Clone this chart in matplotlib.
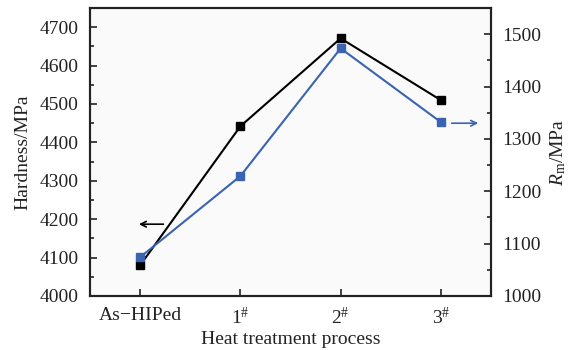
import numpy as np
import matplotlib.pyplot as plt
from matplotlib.ticker import MultipleLocator

plt.rcParams['font.family'] = ['Liberation Serif', 'DejaVu Serif']
plt.rcParams['mathtext.fontset'] = 'custom'
plt.rcParams['mathtext.rm'] = 'Liberation Serif'
plt.rcParams['mathtext.it'] = 'Liberation Serif:italic'
plt.rcParams['text.color'] = '#222222'
plt.rcParams['xtick.color'] = '#222222'
plt.rcParams['ytick.color'] = '#222222'
plt.rcParams['axes.labelcolor'] = '#222222'

# === données ===
process = ["As\u2212HIPed", "1$^{\\#}$", "2$^{\\#}$", "3$^{\\#}$"]
hardness = [4080, 4442, 4671, 4510]   # MPa, axe gauche
rm = [1074, 1229, 1473, 1332]         # MPa, axe droit

x = np.arange(len(process))

fig = plt.figure(figsize=(5.77, 3.5), dpi=100)
fig.patch.set_facecolor('white')
ax = fig.add_axes([90/577, 1 - 296/350, 401/577, 288/350])
ax.set_facecolor('#fafafa')

ax.plot(x, hardness, color='black', lw=1.5, marker='s', ms=6, zorder=3)
ax.set_xlim(-0.5, 3.5)
ax.set_ylim(4000, 4750)
ax.yaxis.set_major_locator(MultipleLocator(100))
ax.yaxis.set_minor_locator(MultipleLocator(50))
ax.set_xticks(x)
ax.set_xticklabels(process, fontsize=14)
ax.set_ylabel("Hardness/MPa", fontsize=14, labelpad=6)
ax.set_xlabel("Heat treatment process", fontsize=14, labelpad=2)
ax.tick_params(direction='in', length=5, width=1.2, labelsize=14, top=False, pad=8)
ax.tick_params(which='minor', direction='in', length=3, width=1.2)

ax2 = ax.twinx()
ax2.plot(x, rm, color='#3a63b0', lw=1.5, marker='s', ms=6, zorder=3)
ax2.set_ylim(1000, 1550)
ax2.yaxis.set_major_locator(MultipleLocator(100))
ax2.yaxis.set_minor_locator(MultipleLocator(50))
ax2.set_ylabel("$R_{\\mathrm{m}}$/MPa", fontsize=14, labelpad=5)
ax2.tick_params(direction='in', length=5, width=1.2, labelsize=14, pad=8)
ax2.tick_params(which='minor', direction='in', length=3, width=1.2)

for a in (ax, ax2):
    for s in a.spines.values():
        s.set_linewidth(1.5)
        s.set_color('#222222')

# flèches indiquant l'axe
ax.annotate("", xy=(-0.04, 4187), xytext=(0.26, 4187),
            arrowprops=dict(arrowstyle='->', color='black', lw=1.2))
ax2.annotate("", xy=(3.4, 1330), xytext=(3.08, 1330),
             arrowprops=dict(arrowstyle='->', color='#3a63b0', lw=1.2))

fig.savefig("out.png", dpi=100)
